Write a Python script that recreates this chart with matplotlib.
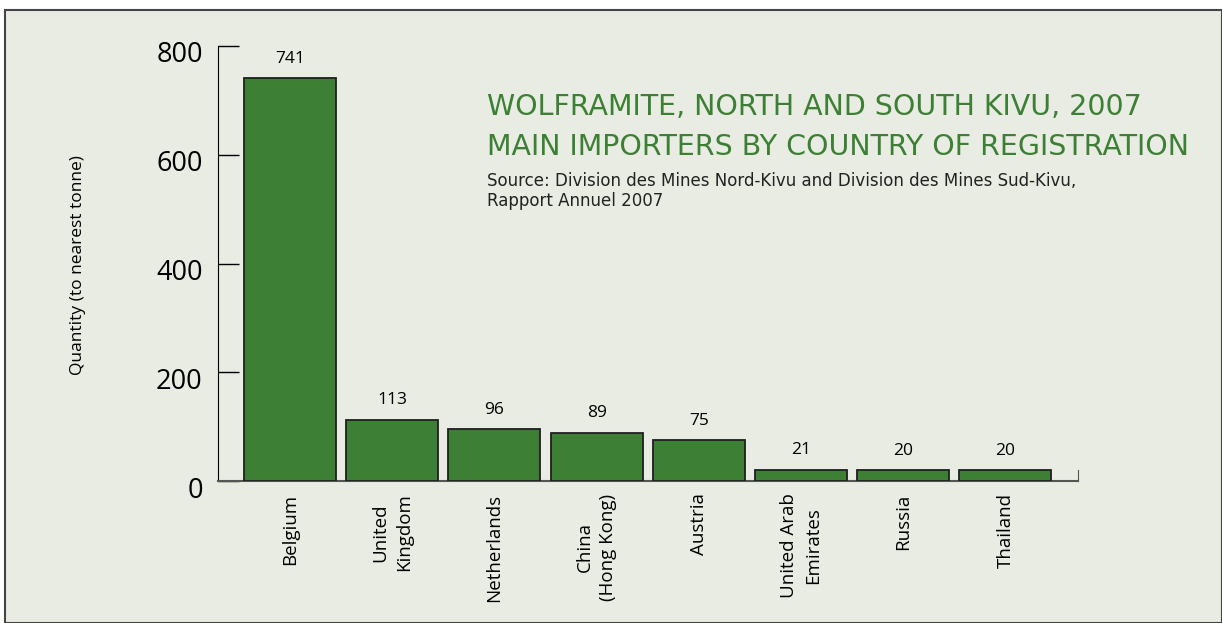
import matplotlib
matplotlib.use("Agg")
import matplotlib.pyplot as plt
import matplotlib.transforms as mtransforms
from matplotlib.patches import Rectangle

# Data
countries = ["Belgium", "United\nKingdom", "Netherlands", "China\n(Hong Kong)",
             "Austria", "United Arab\nEmirates", "Russia", "Thailand"]
quantities = [741, 113, 96, 89, 75, 21, 20, 20]
y_ticks = [0, 200, 400, 600, 800]

green = "#3d7f34"
panel = "#e8ece3"

plt.rcParams["font.family"] = ["Open Sans", "DejaVu Sans"]

fig = plt.figure(figsize=(12.22, 6.23), dpi=100, facecolor="white")

# Background panel with border
fig.patches.append(Rectangle((5 / 1222, 0), 1 - 5 / 1222, 1 - 10 / 623,
                             transform=fig.transFigure, facecolor=panel,
                             edgecolor="#444444", linewidth=1.5, zorder=-5))

ax = fig.add_axes([218 / 1222, 1 - 481 / 623, 860 / 1222, 435 / 623])
ax.set_facecolor("none")
ax.set_zorder(2)

x = range(len(countries))
ax.bar(x, quantities, width=0.9, color=green, edgecolor="#1f1f1f", linewidth=1.3, zorder=3)

for xi, q in zip(x, quantities):
    ax.annotate(str(q), (xi, q), xytext=(0, 8), textcoords="offset points",
                ha="center", va="bottom", fontsize=12.5)

ax.set_xlim(-0.705, 7.71)
ax.set_ylim(0, 800)
ax.set_yticks(y_ticks)
ax.set_yticklabels([str(t) for t in y_ticks], fontsize=19.5)
ax.tick_params(axis="y", direction="in", length=15, width=1, pad=11)
# labels sit slightly below their ticks
shift = mtransforms.ScaledTranslation(0, -6 / 100, fig.dpi_scale_trans)
for lab in ax.get_yticklabels():
    lab.set_transform(lab.get_transform() + shift)

ax.set_xticks(list(x))
ax.set_xticklabels(countries, rotation=90, fontsize=13.5, va="top", ha="center",
                   linespacing=1.4)
ax.tick_params(axis="x", length=0, pad=9)

ax.spines["top"].set_visible(False)
ax.spines["right"].set_bounds(0, 20)
ax.spines["right"].set_color("#555555")
ax.spines["bottom"].set_color("#555555")
ax.spines["bottom"].set_linewidth(1.5)

fig.text(78 / 1222, 1 - 265 / 623, "Quantity (to nearest tonne)", rotation=90,
         ha="center", va="center", fontsize=12.5)

title_font = ["DejaVu Sans"]
fig.text(487 / 1222, 1 - 115 / 623, "WOLFRAMITE, NORTH AND SOUTH KIVU, 2007",
         color=green, fontsize=20.5, family=title_font, va="baseline")
fig.text(487 / 1222, 1 - 155 / 623, "MAIN IMPORTERS BY COUNTRY OF REGISTRATION",
         color=green, fontsize=20.5, family=title_font, va="baseline")
fig.text(487 / 1222, 1 - 186 / 623,
         "Source: Division des Mines Nord-Kivu and Division des Mines Sud-Kivu,",
         fontsize=12, family=title_font, va="baseline", color="#222222")
fig.text(487 / 1222, 1 - 206 / 623, "Rapport Annuel 2007",
         fontsize=12, family=title_font, va="baseline", color="#222222")

fig.savefig("out.png", dpi=100, facecolor="white")
